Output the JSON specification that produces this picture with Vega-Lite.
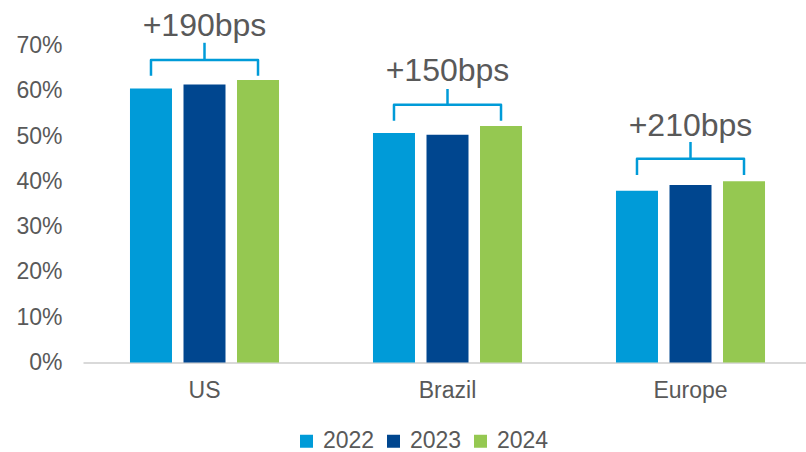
{
  "$schema": "https://vega.github.io/schema/vega-lite/v6.json",
  "width": 723,
  "height": 317,
  "autosize": {"type": "none"},
  "padding": {"left": 83, "top": 45.5, "right": 0, "bottom": 89.5},
  "background": "white",
  "config": {
    "view": {"stroke": null},
    "font": "Liberation Sans",
    "text": {"font": "Liberation Sans"}
  },
  "datasets": {
    "bars": [
      {"region": "US", "year": "2022", "value": 0.605},
      {"region": "US", "year": "2023", "value": 0.614},
      {"region": "US", "year": "2024", "value": 0.624},
      {"region": "Brazil", "year": "2022", "value": 0.507},
      {"region": "Brazil", "year": "2023", "value": 0.503},
      {"region": "Brazil", "year": "2024", "value": 0.522},
      {"region": "Europe", "year": "2022", "value": 0.379},
      {"region": "Europe", "year": "2023", "value": 0.392},
      {"region": "Europe", "year": "2024", "value": 0.400}
    ],
    "bracketPath": [
      {"region": "US", "year": "2022", "value": 0.633, "ord": 1},
      {"region": "US", "year": "2022", "value": 0.668, "ord": 2},
      {"region": "US", "year": "2024", "value": 0.668, "ord": 3},
      {"region": "US", "year": "2024", "value": 0.633, "ord": 4},
      {"region": "Brazil", "year": "2022", "value": 0.534, "ord": 1},
      {"region": "Brazil", "year": "2022", "value": 0.569, "ord": 2},
      {"region": "Brazil", "year": "2024", "value": 0.569, "ord": 3},
      {"region": "Brazil", "year": "2024", "value": 0.534, "ord": 4},
      {"region": "Europe", "year": "2022", "value": 0.414, "ord": 1},
      {"region": "Europe", "year": "2022", "value": 0.450, "ord": 2},
      {"region": "Europe", "year": "2024", "value": 0.450, "ord": 3},
      {"region": "Europe", "year": "2024", "value": 0.414, "ord": 4}
    ],
    "bracketTop": [
      {"region": "US", "year": "2023", "value": 0.668, "value2": 0.706, "labelY": 0.743, "label": "+190bps"},
      {"region": "Brazil", "year": "2023", "value": 0.569, "value2": 0.604, "labelY": 0.644, "label": "+150bps"},
      {"region": "Europe", "year": "2023", "value": 0.450, "value2": 0.487, "labelY": 0.523, "label": "+210bps"}
    ]
  },
  "encoding": {
    "x": {
      "field": "region",
      "type": "nominal",
      "sort": ["US", "Brazil", "Europe"],
      "scale": {"domain": ["US", "Brazil", "Europe"], "paddingInner": 0, "paddingOuter": 0, "range": [0, 729]},
      "axis": {
        "title": null,
        "labelAngle": 0,
        "ticks": false,
        "domainColor": "#d9d9d9",
        "domainWidth": 2,
        "labelFontSize": 23,
        "labelColor": "#595959",
        "labelPadding": 17,
        "labelFont": "Liberation Sans"
      }
    },
    "xOffset": {
      "field": "year",
      "type": "nominal",
      "scale": {"domain": ["2022", "2023", "2024"], "paddingInner": 0.215, "paddingOuter": 0.878}
    }
  },
  "layer": [
    {
      "data": {"name": "bars"},
      "mark": {"type": "bar"},
      "encoding": {
        "y": {
          "field": "value",
          "type": "quantitative",
          "scale": {"domain": [0, 0.7]},
          "axis": {
            "title": null,
            "format": ".0%",
            "values": [0, 0.1, 0.2, 0.3, 0.4, 0.5, 0.6, 0.7],
            "grid": false,
            "domain": false,
            "ticks": false,
            "labelPadding": 21,
            "labelFontSize": 23,
            "labelColor": "#595959",
            "labelFont": "Liberation Sans"
          }
        },
        "color": {
          "field": "year",
          "type": "nominal",
          "scale": {"domain": ["2022", "2023", "2024"], "range": ["#009bd8", "#00468f", "#95c851"]},
          "legend": {
            "title": null,
            "orient": "none",
            "legendX": 212,
            "legendY": 384,
            "direction": "horizontal",
            "symbolType": "square",
            "symbolSize": 169,
            "symbolStrokeWidth": 0,
            "labelFontSize": 23,
            "labelColor": "#595959",
            "labelFont": "Liberation Sans",
            "labelOffset": 5,
            "columnPadding": 7
          }
        }
      }
    },
    {
      "data": {"name": "bracketPath"},
      "mark": {"type": "line", "color": "#009bd8", "strokeWidth": 2.5, "strokeJoin": "round"},
      "encoding": {
        "y": {"field": "value", "type": "quantitative"},
        "detail": {"field": "region"},
        "order": {"field": "ord", "type": "quantitative"}
      }
    },
    {
      "data": {"name": "bracketTop"},
      "mark": {"type": "rule", "color": "#009bd8", "strokeWidth": 2.5},
      "encoding": {
        "y": {"field": "value", "type": "quantitative"},
        "y2": {"field": "value2"}
      }
    },
    {
      "data": {"name": "bracketTop"},
      "mark": {"type": "text", "fontSize": 32, "color": "#595959", "baseline": "middle", "align": "center", "font": "Liberation Sans"},
      "encoding": {
        "y": {"field": "labelY", "type": "quantitative"},
        "text": {"field": "label"}
      }
    }
  ]
}
